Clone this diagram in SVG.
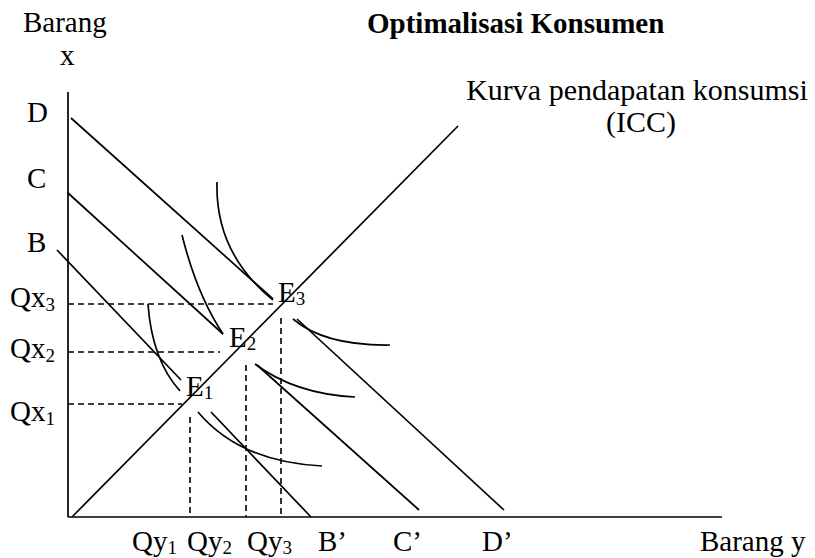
<svg xmlns="http://www.w3.org/2000/svg" width="815" height="558" viewBox="0 0 815 558">
<style>
.ln{stroke:#000;stroke-width:1.7;fill:none}
.ds{stroke:#000;stroke-width:1.6;fill:none;stroke-dasharray:6 4}
text{font-family:"Liberation Serif","Times New Roman",serif;font-size:29px;fill:#000}
.b{font-weight:bold}
.sub{font-size:19px}
.k{font-size:30px}
</style>
<rect width="815" height="558" fill="#fff"/>
<g id="axes">
<line class="ln" x1="68" y1="92" x2="68" y2="517"/>
<line class="ln" x1="68" y1="517" x2="722" y2="517"/>
</g>
<g id="budget-lines">
<line class="ln" x1="71" y1="118" x2="273" y2="299"/>
<line class="ln" x1="68" y1="193" x2="223" y2="334"/>
<line class="ln" x1="57" y1="250" x2="181" y2="380"/>
<line class="ln" x1="211" y1="412" x2="311" y2="517"/>
<line class="ln" x1="257" y1="365" x2="419" y2="510"/>
<line class="ln" x1="297" y1="319" x2="504" y2="510"/>
</g>
<g id="icc">
<line class="ln" x1="72" y1="517" x2="458" y2="126"/>
</g>
<g id="indifference-curves">
<path class="ln" d="M217,182 Q215,253 273,300"/>
<path class="ln" d="M182,235 Q197,295 223,334"/>
<path class="ln" d="M148,304 Q152,360 180,391"/>
<path class="ln" d="M293,319 Q325,346 390,345"/>
<path class="ln" d="M255,364 Q295,394 355,397"/>
<path class="ln" d="M198,412 Q240,462 322,466"/>
</g>
<g id="guides">
<line class="ds" x1="68" y1="304" x2="273" y2="304"/>
<line class="ds" x1="68" y1="352" x2="220" y2="352"/>
<line class="ds" x1="68" y1="404" x2="182" y2="404"/>
<line class="ds" x1="190" y1="417" x2="190" y2="517"/>
<line class="ds" x1="246" y1="365" x2="246" y2="517"/>
<line class="ds" x1="281" y1="318" x2="281" y2="517"/>
</g>
<g id="labels">
<text x="23" y="32">Barang</text>
<text x="60" y="65">x</text>
<text class="b" x="367" y="33">Optimalisasi Konsumen</text>
<text class="k" x="637" y="100" text-anchor="middle">Kurva pendapatan konsumsi</text>
<text class="k" x="641" y="132" text-anchor="middle">(ICC)</text>
<text x="27" y="122">D</text>
<text x="27" y="188">C</text>
<text x="27" y="252">B</text>
<text x="10" y="307">Qx<tspan class="sub" dy="4">3</tspan></text>
<text x="10" y="358">Qx<tspan class="sub" dy="4">2</tspan></text>
<text x="10" y="421">Qx<tspan class="sub" dy="4">1</tspan></text>
<text x="278" y="302">E<tspan class="sub" dy="3">3</tspan></text>
<text x="229" y="347">E<tspan class="sub" dy="3">2</tspan></text>
<text x="186" y="396">E<tspan class="sub" dy="3">1</tspan></text>
<text x="132" y="551">Qy<tspan class="sub" dy="3">1</tspan></text>
<text x="187" y="551">Qy<tspan class="sub" dy="3">2</tspan></text>
<text x="247" y="551">Qy<tspan class="sub" dy="3">3</tspan></text>
<text x="318" y="551">B’</text>
<text x="393" y="551">C’</text>
<text x="482" y="551">D’</text>
<text x="700" y="551">Barang y</text>
</g>
</svg>
